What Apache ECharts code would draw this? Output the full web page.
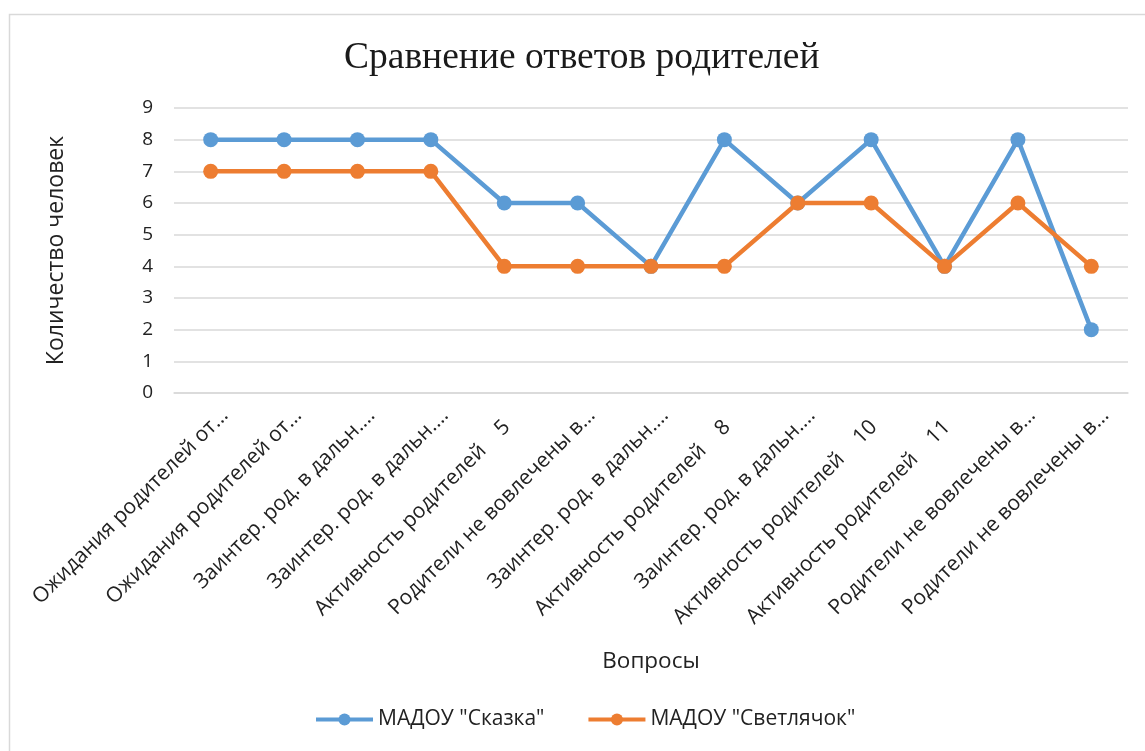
<!DOCTYPE html>
<html><head><meta charset="utf-8">
<script src="https://cdn.jsdelivr.net/npm/echarts@6/dist/echarts.min.js"></script>
<style>html,body{margin:0;padding:0;background:#fff}#c{width:1145px;height:751px}</style>
</head><body><div id="c"></div>
<script>
const categories = [
  "Ожидания родителей от…",
  "Ожидания родителей от…",
  "Заинтер. род. в дальн.…",
  "Заинтер. род. в дальн.…",
  "Активность родителей    5   ",
  "Родители не вовлечены в…",
  "Заинтер. род. в дальн.…",
  "Активность родителей    8   ",
  "Заинтер. род. в дальн.…",
  "Активность родителей    10   ",
  "Активность родителей    11   ",
  "Родители не вовлечены в…",
  "Родители не вовлечены в…"
];
const skazka = [8, 8, 8, 8, 6, 6, 4, 8, 6, 8, 4, 8, 2];
const svetlyachok = [7, 7, 7, 7, 4, 4, 4, 4, 6, 6, 4, 6, 4];
const seriesNames = ['МАДОУ "Сказка"', 'МАДОУ "Светлячок"'];
const titleText = "Сравнение ответов родителей";
const yName = "Количество человек";
const xName = "Вопросы";

const font = "'Open Sans', Lato, sans-serif";
const chart = echarts.init(document.getElementById('c'), null, {renderer: 'canvas'});
chart.setOption({
  backgroundColor: '#fff',
  animation: false,
  graphic: [{
    type: 'rect', left: 7, top: 12,
    shape: {width: 1160, height: 760},
    style: {fill: 'none', stroke: '#D9D9D9', lineWidth: 1.5},
    silent: true
  }],
  title: {
    text: titleText, left: 339, top: 34,
    textStyle: {fontFamily: "'Liberation Serif', 'Times New Roman', serif", fontSize: 37.5, fontWeight: 'normal', color: '#1a1a1a'}
  },
  legend: {
    bottom: 16, left: 309, itemWidth: 57, itemHeight: 15, itemGap: 42,
    lineStyle: {width: 4},
    textStyle: {fontFamily: font, fontSize: 21, color: '#222'},
    data: seriesNames
  },
  grid: {left: 174, right: 17, top: 108, bottom: 358, containLabel: false},
  xAxis: {
    type: 'category', data: categories, boundaryGap: true,
    name: xName, nameLocation: 'middle', nameGap: 257,
    nameTextStyle: {fontFamily: font, fontSize: 22.5, color: '#222'},
    axisLine: {show: true, lineStyle: {color: '#D9D9D9', width: 1.5}},
    axisTick: {show: false},
    axisLabel: {rotate: 45, interval: 0, margin: 5, verticalAlign: 'top', lineHeight: 40,
      fontFamily: font, fontSize: 21, color: '#222'}
  },
  yAxis: {
    type: 'value', min: 0, max: 9, interval: 1,
    name: yName, nameLocation: 'middle', nameGap: 106, nameRotate: 90,
    nameTextStyle: {fontFamily: font, fontSize: 23, color: '#222'},
    axisLine: {show: false}, axisTick: {show: false},
    axisLabel: {margin: 21, fontFamily: font, fontSize: 19, color: '#222'},
    splitLine: {lineStyle: {color: '#D9D9D9', width: 1.5}}
  },
  series: [
    {name: seriesNames[0], type: 'line', data: skazka, symbol: 'circle', symbolSize: 15,
     lineStyle: {color: '#5B9BD5', width: 4.5}, itemStyle: {color: '#5B9BD5'}, z: 2},
    {name: seriesNames[1], type: 'line', data: svetlyachok, symbol: 'circle', symbolSize: 15,
     lineStyle: {color: '#ED7D31', width: 4.5}, itemStyle: {color: '#ED7D31'}, z: 3}
  ]
});
</script></body></html>
